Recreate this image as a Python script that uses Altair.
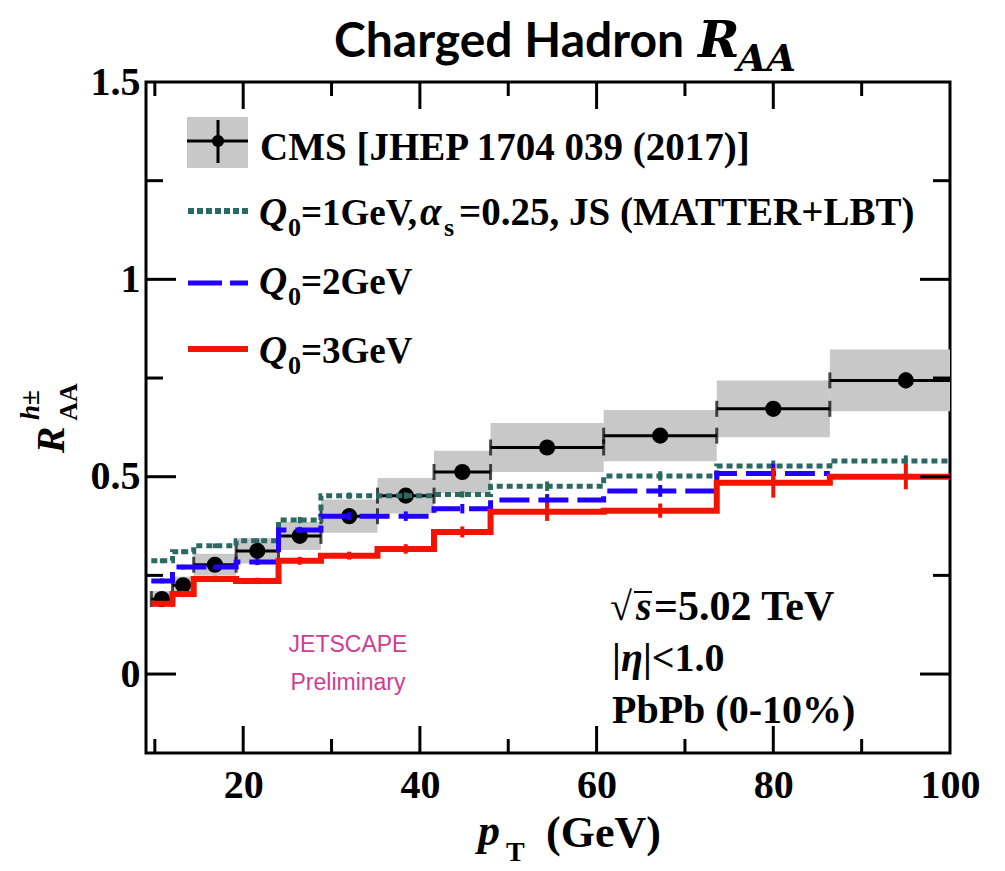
import altair as alt
import pandas as pd

# pT bin edges (GeV)
edges = [9.6, 12.0, 14.4, 19.2, 24.0, 28.8, 35.2, 41.6, 48.0, 60.8, 73.6, 86.4, 103.6]

# CMS charged-hadron R_AA, PbPb 0-10%
cms_raa = [0.190, 0.225, 0.277, 0.312, 0.350, 0.400, 0.452, 0.512, 0.574, 0.604, 0.672, 0.744]
cms_stat = [0.008, 0.008, 0.008, 0.008, 0.010, 0.010, 0.012, 0.014, 0.010, 0.010, 0.012, 0.020]
cms_syst = [0.020, 0.022, 0.028, 0.032, 0.036, 0.042, 0.045, 0.054, 0.062, 0.065, 0.072, 0.078]

# MATTER+LBT predictions
q1_raa = [0.287, 0.310, 0.325, 0.338, 0.390, 0.452, 0.452, 0.455, 0.476, 0.502, 0.527, 0.540]
q1_err = [0.006, 0.006, 0.006, 0.006, 0.008, 0.008, 0.008, 0.008, 0.012, 0.012, 0.014, 0.014]
q2_raa = [0.236, 0.271, 0.271, 0.284, 0.365, 0.400, 0.400, 0.419, 0.441, 0.464, 0.508]
q2_err = [0.006, 0.006, 0.006, 0.008, 0.008, 0.010, 0.012, 0.012, 0.015, 0.015, 0.025]
q3_raa = [0.178, 0.203, 0.241, 0.236, 0.287, 0.300, 0.317, 0.360, 0.411, 0.414, 0.485, 0.500]
q3_err = [0.006, 0.008, 0.008, 0.008, 0.010, 0.010, 0.012, 0.014, 0.023, 0.018, 0.038, 0.032]

x_labels = [20, 40, 60, 80, 100]
y_labels = [0, 0.5, 1, 1.5]
x_major = [20, 40, 60, 80]
x_minor = [10, 30, 50, 70, 90]
y_major = [0.0, 0.5, 1.0]
y_minor = [0.25, 0.75, 1.25]

TEAL, BLUE, RED, GRAY = "#2b6a62", "#2200ff", "#f21300", "#c8c8c8"
SERIF = "Liberation Serif"

# plot-area geometry on the page
L, T, W, H = 146, 82, 804, 671

xs = alt.Scale(domain=[9, 100], nice=False, zero=False)
ys = alt.Scale(domain=[-0.2, 1.5], nice=False, zero=False)

xaxis = alt.Axis(values=x_labels, ticks=False, domain=False, grid=False,
                 labelFont=SERIF, labelFontWeight="bold", labelFontSize=40,
                 labelColor="black", labelPadding=12, labelFlush=False,
                 labelOverlap=False, title=None)
yaxis = alt.Axis(values=y_labels, format="~g", ticks=False, domain=False,
                 grid=False, labelFont=SERIF, labelFontWeight="bold", labelFontSize=40,
                 labelColor="black", labelPadding=6, labelOverlap=False, title=None)


def X(field):
    return alt.X(field, type="quantitative", scale=xs, axis=xaxis)


def Y(field):
    return alt.Y(field, type="quantitative", scale=ys, axis=yaxis)


def bins(values, errs):
    n = len(values)
    return pd.DataFrame({
        "lo": edges[:n], "hi": edges[1:n + 1],
        "c": [(a + b) / 2 for a, b in zip(edges[:n], edges[1:n + 1])],
        "v": values, "lo_v": [v - e for v, e in zip(values, errs)],
        "hi_v": [v + e for v, e in zip(values, errs)],
    })


def steps(values):
    n = len(values)
    return pd.DataFrame({"lo": edges[:n + 1], "v": list(values) + [values[-1]]})


cms = bins(cms_raa, cms_stat)
cms["s_lo"] = [v - s for v, s in zip(cms_raa, cms_syst)]
cms["s_hi"] = [v + s for v, s in zip(cms_raa, cms_syst)]
caps = pd.DataFrame({"lo": list(cms["lo"]) + list(cms["hi"]), "v": cms_raa + cms_raa})

syst_boxes = alt.Chart(cms).mark_rect(color=GRAY, clip=True).encode(
    x=X("lo"), x2="hi", y=Y("s_lo"), y2="s_hi")
cms_h = alt.Chart(cms).mark_rule(color="black", strokeWidth=3, clip=True).encode(
    x=X("lo"), x2="hi", y=Y("v"))
cms_caps = alt.Chart(caps).mark_tick(color="black", orient="vertical", size=16,
                                     thickness=3, clip=True).encode(x=X("lo"), y=Y("v"))
cms_v = alt.Chart(cms).mark_rule(color="black", strokeWidth=3).encode(
    x=X("c"), y=Y("lo_v"), y2="hi_v")
cms_pts = alt.Chart(cms).mark_point(shape="circle", filled=True, size=260,
                                    color="black", opacity=1).encode(x=X("c"), y=Y("v"))


def model(values, errs, color, width, dash=None):
    kw = dict(color=color, strokeWidth=width, interpolate="step-after", clip=True)
    if dash:
        kw["strokeDash"] = dash
    line = alt.Chart(steps(values)).mark_line(**kw).encode(x=X("lo"), y=Y("v"))
    bars = alt.Chart(bins(values, errs)).mark_rule(color=color, strokeWidth=4).encode(
        x=X("c"), y=Y("lo_v"), y2="hi_v")
    return [line, bars]


m1 = model(q1_raa, q1_err, TEAL, 5, [6, 4])
m2 = model(q2_raa, q2_err, BLUE, 5, [30, 9])
m3 = model(q3_raa, q3_err, RED, 6)


# inward frame ticks on all four sides
def xticks(vals, length):
    base = alt.Chart(pd.DataFrame({"lo": vals})).mark_rule(color="black", strokeWidth=3)
    return [base.encode(x=X("lo"), y=alt.value(H), y2=alt.value(H - length)),
            base.encode(x=X("lo"), y=alt.value(0), y2=alt.value(length))]


def yticks(vals, length):
    base = alt.Chart(pd.DataFrame({"v": vals})).mark_rule(color="black", strokeWidth=3)
    return [base.encode(y=Y("v"), x=alt.value(0), x2=alt.value(length)),
            base.encode(y=Y("v"), x=alt.value(W), x2=alt.value(W - length))]


frame_ticks = xticks(x_major, 27) + xticks(x_minor, 14) + yticks(y_major, 30) + yticks(y_minor, 17)

one = pd.DataFrame({"k": [0]})


def label(text, px, py, size, font=SERIF, weight="bold", style="normal",
          color="black", align="left", baseline="alphabetic", angle=0):
    return alt.Chart(one).mark_text(
        text=text, font=font, fontSize=size, fontWeight=weight, fontStyle=style,
        color=color, align=align, baseline=baseline, angle=angle
    ).encode(x=alt.value(px - L), y=alt.value(py - T))


def hline(x1, x2, py, color, width, dash=None):
    kw = dict(color=color, strokeWidth=width)
    if dash:
        kw["strokeDash"] = dash
    return alt.Chart(one).mark_rule(**kw).encode(
        x=alt.value(x1 - L), x2=alt.value(x2 - L), y=alt.value(py - T))


texts = [
    # title
    label("Charged Hadron", 334, 57, 48, font="Lato"),
    label("R", 698, 57, 50, font="DejaVu Serif", style="italic"),
    label("AA", 737, 71, 38, font="DejaVu Serif", style="italic"),
    # axis titles
    label("p", 478, 845, 44, style="italic"),
    label("T", 506, 861, 28),
    label("(GeV)", 546, 847, 44),
    label("R", 52, 440, 40, style="italic", align="center", baseline="middle", angle=270),
    label("h±", 31, 405, 27, style="italic", align="center", baseline="middle", angle=270),
    label("AA", 69, 402, 26, align="center", baseline="middle", angle=270),
    # legend
    label("CMS [JHEP 1704 039 (2017)]", 260, 160, 39),
    label("Q", 259, 225, 39, style="italic"),
    label("0", 288, 236, 26),
    label("=1GeV,", 301, 225, 37),
    label("α", 420, 225, 39, style="italic"),
    label("s", 444, 236, 26),
    label("=0.25, JS (MATTER+LBT)", 459, 225, 39),
    label("Q", 259, 294, 39, style="italic"),
    label("0", 288, 305, 26),
    label("=2GeV", 301, 294, 37),
    label("Q", 259, 363, 39, style="italic"),
    label("0", 288, 374, 26),
    label("=3GeV", 301, 363, 37),
    # collision system
    label("√", 610, 620, 40),
    label("s", 636, 620, 40, style="italic"),
    label("=5.02 TeV", 654, 620, 42),
    label("|", 612, 671, 40),
    label("η", 621, 671, 40, style="italic"),
    label("|<1.0", 643, 671, 40),
    label("PbPb (0-10%)", 612, 723, 40),
    # preliminary tag
    label("JETSCAPE", 348, 645, 23, font="Liberation Sans", weight="normal",
          color="#cf3d96", align="center", baseline="middle"),
    label("Preliminary", 348, 683, 23, font="Liberation Sans", weight="normal",
          color="#cf3d96", align="center", baseline="middle"),
]

legend_marks = [
    alt.Chart(one).mark_rect(color=GRAY).encode(
        x=alt.value(187 - L), x2=alt.value(248 - L),
        y=alt.value(117 - T), y2=alt.value(168 - T)),
    hline(187, 248, 141, "black", 3),
    alt.Chart(one).mark_rule(color="black", strokeWidth=3).encode(
        x=alt.value(218 - L), y=alt.value(120 - T), y2=alt.value(163 - T)),
    alt.Chart(one).mark_point(shape="circle", filled=True, size=150, color="black",
                              opacity=1).encode(x=alt.value(218 - L), y=alt.value(141 - T)),
    hline(188, 248, 211, TEAL, 6, [6, 3]),
    hline(188, 248, 283, BLUE, 5, [34, 8]),
    hline(188, 248, 349, RED, 6),
    hline(634, 652, 592, "black", 2),
]

chart = alt.layer(
    syst_boxes, cms_h, cms_caps, cms_v, cms_pts, *m1, *m2, *m3,
    *frame_ticks, *legend_marks, *texts
).properties(
    width=W, height=H,
    autosize=alt.AutoSizeParams(type="none"),
    padding={"left": L, "top": T, "right": 1005 - L - W, "bottom": 871 - T - H},
    background="white",
).configure_view(stroke="black", strokeWidth=3)

chart.save("out.html", embed_options={"renderer": "svg", "actions": False})
